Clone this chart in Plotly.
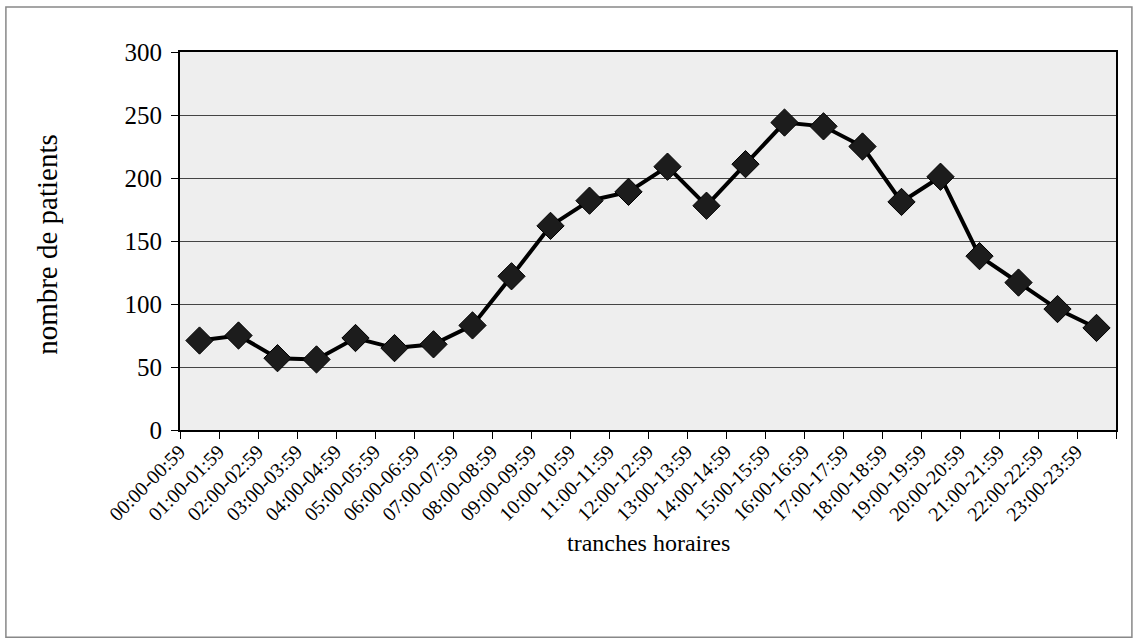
import plotly.graph_objects as go

categories = ["00:00-00:59", "01:00-01:59", "02:00-02:59", "03:00-03:59", "04:00-04:59",
              "05:00-05:59", "06:00-06:59", "07:00-07:59", "08:00-08:59", "09:00-09:59",
              "10:00-10:59", "11:00-11:59", "12:00-12:59", "13:00-13:59", "14:00-14:59",
              "15:00-15:59", "16:00-16:59", "17:00-17:59", "18:00-18:59", "19:00-19:59",
              "20:00-20:59", "21:00-21:59", "22:00-22:59", "23:00-23:59"]
patients = [71, 75, 57, 56, 73, 65, 68, 83, 122, 162, 182, 189,
            209, 178, 211, 244, 241, 225, 181, 201, 138, 117, 96, 81]
y_ticks = [0, 50, 100, 150, 200, 250, 300]

FONT = "Liberation Serif, Times New Roman, serif"

fig = go.Figure()
fig.add_trace(go.Scatter(
    x=categories, y=patients, mode="lines+markers",
    line=dict(color="black", width=4),
    marker=dict(symbol="diamond", size=21, color="#1c1c1c",
                line=dict(color="black", width=1)),
    showlegend=False,
))

fig.update_layout(
    width=1134, height=639,
    margin=dict(l=180, r=18, t=52, b=209),
    paper_bgcolor="white",
    plot_bgcolor="#eeeeee",
    font=dict(family=FONT, size=24, color="black"),
    xaxis=dict(
        type="category", range=[-0.5, 23.5],
        tickson="boundaries", ticks="outside", ticklen=7, tickcolor="black",
        tickangle=-45, showgrid=False,
        showline=True, linecolor="black", linewidth=2, mirror=True,
        tickfont=dict(family=FONT, size=20),
        ticklabelshift=-20, ticklabelstandoff=0,
    ),
    yaxis=dict(
        range=[0, 300], tickvals=y_ticks,
        ticks="outside", ticklen=7, tickcolor="black",
        showgrid=True, gridcolor="#444444", gridwidth=1,
        showline=True, linecolor="black", linewidth=2, mirror=True,
        zeroline=False,
        tickfont=dict(family=FONT, size=25),
        ticklabelstandoff=4,
    ),
    annotations=[
        dict(text="tranches horaires", xref="paper", yref="paper",
             x=0.5, y=-0.30, showarrow=False, xanchor="center", yanchor="middle",
             font=dict(family=FONT, size=24)),
        dict(text="nombre de patients", xref="paper", yref="paper",
             x=-0.142, y=0.49, showarrow=False, textangle=-90,
             xanchor="center", yanchor="middle",
             font=dict(family=FONT, size=29)),
    ],
    shapes=[
        dict(type="rect", xref="paper", yref="paper",
             x0=-0.186, x1=1.017, y0=-0.548, y1=1.119,
             line=dict(color="#888888", width=1.5)),
    ],
)

fig.write_html("out.html", config={"displayModeBar": False},
               post_script="document.body.style.margin='0';")
